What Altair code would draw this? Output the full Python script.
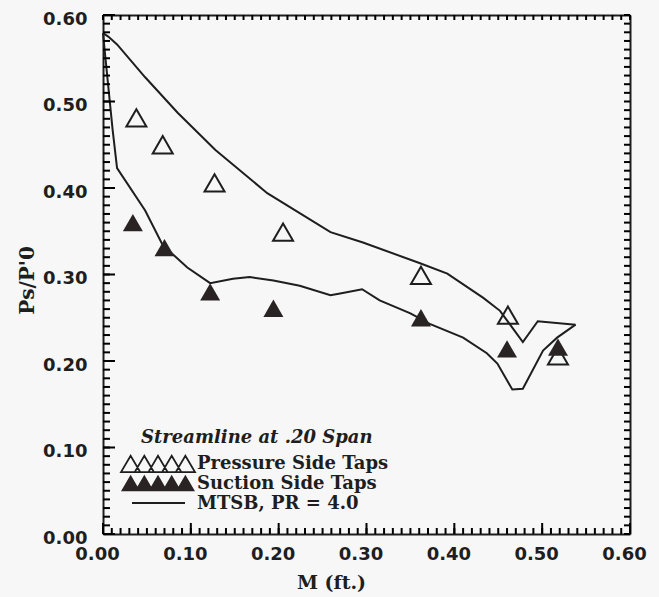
import altair as alt
import pandas as pd

INK = "#1e1e1e"

# ---------------- data ----------------
# Measured taps
pressure_x = [0.038, 0.068, 0.127, 0.205, 0.362, 0.461, 0.518]
pressure_y = [0.481, 0.450, 0.406, 0.349, 0.299, 0.253, 0.206]
suction_x = [0.034, 0.070, 0.122, 0.194, 0.362, 0.460, 0.518]
suction_y = [0.360, 0.331, 0.280, 0.261, 0.250, 0.214, 0.216]

# MTSB prediction, upper (pressure side) and lower (suction side) branches
mtsb_up_x = [0.0, 0.006, 0.016, 0.048, 0.085, 0.128, 0.187, 0.259, 0.296,
             0.361, 0.392, 0.433, 0.452, 0.478, 0.495, 0.538]
mtsb_up_y = [0.579, 0.575, 0.566, 0.528, 0.487, 0.444, 0.394, 0.349, 0.337,
             0.313, 0.301, 0.273, 0.258, 0.222, 0.246, 0.242]
mtsb_lo_x = [0.0, 0.003, 0.011, 0.016, 0.048, 0.068, 0.096, 0.122, 0.148,
             0.167, 0.194, 0.224, 0.259, 0.270, 0.295, 0.315, 0.350, 0.372,
             0.410, 0.437, 0.449, 0.466, 0.478, 0.501, 0.517, 0.538]
mtsb_lo_y = [0.579, 0.548, 0.467, 0.423, 0.374, 0.334, 0.308, 0.290, 0.295,
             0.297, 0.293, 0.287, 0.276, 0.278, 0.283, 0.270, 0.255, 0.243,
             0.227, 0.209, 0.197, 0.167, 0.168, 0.212, 0.227, 0.242]

major_ticks = [0.0, 0.1, 0.2, 0.3, 0.4, 0.5, 0.6]
minor_ticks = [round(i * 0.01, 2) for i in range(61)]

legend_title = "Streamline at .20 Span"
legend_labels = ["Pressure Side Taps", "Suction Side Taps", "MTSB, PR = 4.0"]
x_title = "M (ft.)"
y_title = "Ps/P'0"

# ---------------- tables ----------------
press_df = pd.DataFrame({"x": pressure_x, "y": pressure_y})
suct_df = pd.DataFrame({"x": suction_x, "y": suction_y})
curve_df = pd.concat([
    pd.DataFrame({"x": mtsb_up_x, "y": mtsb_up_y, "surface": "upper",
                  "idx": range(len(mtsb_up_x))}),
    pd.DataFrame({"x": mtsb_lo_x, "y": mtsb_lo_y, "surface": "lower",
                  "idx": range(len(mtsb_lo_x))}),
], ignore_index=True)
minor_df = pd.DataFrame({"x": minor_ticks, "y": minor_ticks})
major_df = pd.DataFrame({"x": major_ticks, "y": major_ticks})

W, H = 527, 519
xs = alt.Scale(domain=[0, 0.6], nice=False, zero=False)
ys = alt.Scale(domain=[0, 0.6], nice=False, zero=False)

LABEL_FONT = "DejaVu Sans"
SERIF = "DejaVu Serif"


def frame_axis(orient):
    return alt.Axis(orient=orient, values=major_ticks, labels=False, ticks=False,
                    domain=True, domainColor=INK, domainWidth=2, grid=False,
                    title="")


x_main = alt.Axis(orient="bottom", values=major_ticks, format=".2f", ticks=False,
                  domain=True, domainColor=INK, domainWidth=2, grid=False,
                  labelFont=LABEL_FONT, labelFontSize=18, labelFontWeight="bold",
                  labelColor=INK, labelPadding=11, labelOffset=-6,
                  labelFlush=False, labelOverlap=False,
                  title=x_title, titleFont=SERIF, titleFontSize=19,
                  titleFontWeight="bold", titleColor=INK, titleX=228, titleY=48,
                  titleAlign="center", titleBaseline="middle")
y_main = alt.Axis(orient="left", values=major_ticks, format=".2f", ticks=False,
                  domain=True, domainColor=INK, domainWidth=2, grid=False,
                  labelFont=LABEL_FONT, labelFontSize=18, labelFontWeight="bold",
                  labelColor=INK, labelPadding=16, labelOffset=4,
                  labelFlush=False, labelOverlap=False,
                  title=y_title, titleFont=SERIF, titleFontSize=20,
                  titleFontWeight="bold", titleColor=INK, titleAngle=270,
                  titleX=-76, titleY=265, titleAlign="center",
                  titleBaseline="middle")

curve = alt.Chart(curve_df).mark_line(color=INK, strokeWidth=2).encode(
    x=alt.X("x:Q", scale=xs, axis=x_main),
    y=alt.Y("y:Q", scale=ys, axis=y_main),
    detail="surface:N",
    order="idx:Q",
)

pressure = alt.Chart(press_df).mark_point(
    shape="triangle-up", size=400, filled=False, stroke=INK, strokeWidth=2,
    opacity=1).encode(
    x=alt.X("x:Q", scale=xs, axis=frame_axis("top")),
    y=alt.Y("y:Q", scale=ys, axis=frame_axis("right")),
)

suction = alt.Chart(suct_df).mark_point(
    shape="triangle-up", size=400, filled=True, color="#2a2324",
    opacity=1).encode(
    x=alt.X("x:Q", scale=xs, axis=None),
    y=alt.Y("y:Q", scale=ys, axis=None),
)


# ---------------- inward tick marks on all four sides ----------------
# short tick marks placed through the shared scales, drawn from the frame inward
def xticks(df, edge, length, inward):
    return alt.Chart(df).mark_tick(color="#000000", thickness=2, size=length,
                                   orient="vertical", opacity=1).encode(
        x=alt.X("x:Q", scale=xs, axis=None),
        y=alt.value(edge + inward * length / 2))


def yticks(df, edge, length, inward):
    return alt.Chart(df).mark_tick(color="#000000", thickness=2, size=length,
                                   orient="horizontal", opacity=1).encode(
        y=alt.Y("y:Q", scale=ys, axis=None),
        x=alt.value(edge + inward * length / 2))


tick_layers = [
    xticks(minor_df, H, 6, -1),
    xticks(major_df, H, 11, -1),
    xticks(minor_df, 0, 5, 1),
    yticks(minor_df, 0, 7, 1),
    yticks(major_df, 0, 12, 1),
    yticks(minor_df, W, 6, -1),
]


# ---------------- legend (drawn inside the plot) ----------------
def tri_row_path(n=5, w=0.52, h=0.22):
    step = (2 - w) / (n - 1)
    parts = []
    for i in range(n):
        left = -1 + i * step
        parts.append(f"M{left:.3f},{h} L{left + w / 2:.3f},{-h} L{left + w:.3f},{h} Z")
    return " ".join(parts)


TRI5 = tri_row_path()

title_txt = alt.Chart(pd.DataFrame({"t": [legend_title]})).mark_text(
    align="left", baseline="middle", font=SERIF, fontSize=18,
    fontStyle="italic", fontWeight="bold", color=INK).encode(
    text="t:N", x=alt.value(38), y=alt.value(423))

label_y = [449, 469, 489]
label_layers = []
for lab, ly in zip(legend_labels, label_y):
    label_layers.append(
        alt.Chart(pd.DataFrame({"t": [lab]})).mark_text(
            align="left", baseline="middle", font=SERIF, fontSize=18,
            fontWeight="bold", color=INK).encode(
            text="t:N", x=alt.value(94), y=alt.value(ly)))

sym_open = alt.Chart(pd.DataFrame({"t": [legend_labels[0]]})).mark_point(
    shape=TRI5, size=5476, filled=False, stroke=INK, strokeWidth=1.8,
    opacity=1).encode(x=alt.value(55), y=alt.value(449))
sym_fill = alt.Chart(pd.DataFrame({"t": [legend_labels[1]]})).mark_point(
    shape=TRI5, size=5476, filled=True, color="#2a2324",
    opacity=1).encode(x=alt.value(55), y=alt.value(468))
sym_line = alt.Chart(pd.DataFrame({"t": [legend_labels[2]]})).mark_rule(
    color=INK, strokeWidth=1.8).encode(
    x=alt.value(29), x2=alt.value(82), y=alt.value(488))

chart = alt.layer(
    curve, pressure, suction, *tick_layers,
    title_txt, *label_layers, sym_open, sym_fill, sym_line,
).resolve_axis(
    x="independent", y="independent"
).properties(
    width=W, height=H,
    autosize=alt.AutoSizeParams(type="none"),
    padding={"left": 103, "top": 15, "right": 29, "bottom": 63},
    background="#f7f7f7",
).configure_view(strokeWidth=0)

chart.save("out.html", embed_options={"renderer": "svg", "actions": False})
